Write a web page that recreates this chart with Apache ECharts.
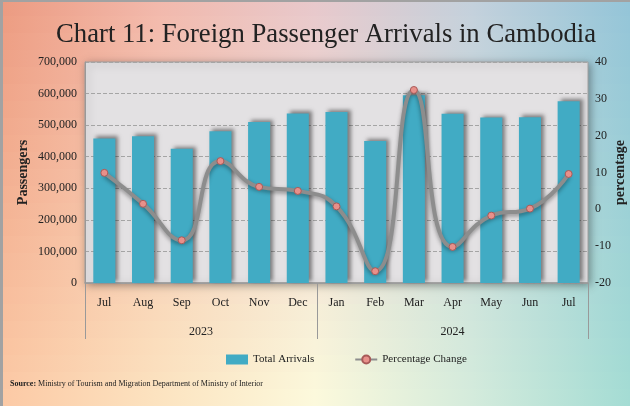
<!DOCTYPE html>
<html>
<head>
<meta charset="utf-8">
<script src="https://cdn.jsdelivr.net/npm/echarts@6/dist/echarts.min.js"></script>
<style>
  html, body { margin: 0; padding: 0; }
  #chart { width: 630px; height: 406px; }
</style>
</head>
<body>
<div id="chart"></div>
<script>
// 数据
let months = ['Jul', 'Aug', 'Sep', 'Oct', 'Nov', 'Dec', 'Jan', 'Feb', 'Mar', 'Apr', 'May', 'Jun', 'Jul']
let years = ['2023', '2024']
let arrivals = [458000, 465000, 425000, 481000, 510000, 537000, 542000, 450000, 595000, 536000, 524000, 525000, 576000]
let pctChange = [9.9, 1.5, -8.4, 13.1, 6.1, 5.0, 0.8, -16.8, 32.4, -10.2, -1.7, 0.2, 9.6]
let leftTicks = [0, 700000, 100000]
let rightTicks = [-20, 40, 10]

let serif = 'Liberation Serif'
let W = 630
let H = 406

// 背景渐变：上下两行颜色，中间按行插值
let topColors = ['#ec9a80', '#f2b8ac', '#e8c8cc', '#c4d0dc', '#94c4d8']
let bottomColors = ['#fccaa6', '#fce4c0', '#fcfadc', '#d4ecdc', '#a4dcd4']

let bgStrips = function (count) {
  let list = []
  let h = H / count
  for (let i = 0; i < count; i++) {
    let t = (i + 0.5) / count
    let stops = topColors.map((c, k) => ({
      offset: k / (topColors.length - 1),
      color: echarts.color.lerp(t, [c, bottomColors[k]])
    }))
    list.push({
      type: 'rect',
      z: -10,
      silent: true,
      shape: {x: 0, y: Math.floor(i * h), width: W, height: Math.ceil(h) + 1},
      style: {fill: new echarts.graphic.LinearGradient(0, 0, 1, 0, stops)}
    })
  }
  return list
}

let el = document.querySelector('#chart')
let chartInstance = echarts.init(el)

let chartOption = {
  animation: false,
  backgroundColor: '#f6e6dc',
  graphic: bgStrips(24).concat([
    {
      type: 'rect',
      z: -9,
      silent: true,
      shape: {x: 0, y: 0, width: 3, height: H},
      style: {fill: '#a2a2a2'}
    },
    {
      type: 'rect',
      z: -9,
      silent: true,
      shape: {x: 0, y: 0, width: W, height: 2},
      style: {fill: '#a2a2a2'}
    },
    {
      type: 'text',
      left: 10,
      top: 380,
      style: {
        text: '{b|Source:} Ministry of Tourism and Migration Department of Ministry of Interior',
        font: '8px ' + serif,
        fill: '#222',
        rich: {
          b: {fontWeight: 'bold', fontFamily: serif, fontSize: 8}
        }
      }
    }
  ]),
  title: {
    text: 'Chart 11: Foreign Passenger Arrivals in Cambodia',
    left: 51,
    top: 16,
    textStyle: {fontFamily: serif, fontSize: 26.7, fontWeight: 'normal', color: '#222'}
  },
  legend: {
    top: 349,
    left: 221,
    itemGap: 40,
    itemWidth: 22,
    itemHeight: 10,
    textStyle: {fontFamily: serif, fontSize: 11, color: '#222'},
    data: [
      {name: 'Total Arrivals', icon: 'rect'},
      {name: 'Percentage Change'}
    ]
  },
  grid: {
    left: 85,
    right: 42,
    top: 62,
    bottom: 123,
    outerBoundsMode: 'none',
    containLabel: false,
    show: true,
    backgroundColor: '#e3e1e3',
    borderColor: '#a0a0a0',
    borderWidth: 1,
    shadowColor: 'rgba(0,0,0,0.35)',
    shadowBlur: 8,
    shadowOffsetX: 2,
    shadowOffsetY: 2
  },
  xAxis: [
    {
      type: 'category',
      data: months,
      axisLine: {lineStyle: {color: '#999', width: 1.5}},
      axisTick: {show: false},
      axisLabel: {fontFamily: serif, fontSize: 12, color: '#222', margin: 14}
    },
    {
      // 年份标签
      type: 'value',
      position: 'bottom',
      min: 0,
      max: months.length,
      axisLine: {show: false},
      splitLine: {show: false},
      axisTick: {show: false},
      axisLabel: {
        customValues: [3, 9.5],
        formatter: v => (v < 6 ? years[0] : years[1]),
        fontFamily: serif,
        fontSize: 12,
        color: '#222',
        margin: 43
      }
    },
    {
      // 年份分隔线
      type: 'category',
      position: 'bottom',
      data: months,
      axisLine: {show: false},
      axisLabel: {show: false},
      splitLine: {show: false},
      axisTick: {
        show: true,
        interval: i => i === 0 || i === 6,
        length: 56,
        lineStyle: {color: '#999'}
      }
    }
  ],
  yAxis: [
    {
      type: 'value',
      min: leftTicks[0],
      max: leftTicks[1],
      interval: leftTicks[2],
      name: 'Passengers',
      nameLocation: 'middle',
      nameRotate: 90,
      nameGap: 55,
      nameMoveOverlap: false,
      nameTextStyle: {fontFamily: serif, fontSize: 14, fontWeight: 'bold', color: '#222'},
      axisLine: {show: true, lineStyle: {color: '#999'}},
      axisTick: {show: false},
      axisLabel: {
        fontFamily: serif,
        fontSize: 12,
        color: '#222',
        margin: 8,
        formatter: v => v.toLocaleString('en-US')
      },
      splitLine: {lineStyle: {color: '#a5a5a5', type: 'dashed'}}
    },
    {
      type: 'value',
      min: rightTicks[0],
      max: rightTicks[1],
      interval: rightTicks[2],
      name: 'percentage',
      nameLocation: 'middle',
      nameRotate: 90,
      nameGap: 25,
      nameMoveOverlap: false,
      nameTextStyle: {fontFamily: serif, fontSize: 14, fontWeight: 'bold', color: '#222'},
      axisLine: {show: false},
      axisTick: {show: false},
      axisLabel: {fontFamily: serif, fontSize: 12, color: '#222', margin: 7},
      splitLine: {show: false}
    }
  ],
  series: [
    {
      name: 'Total Arrivals',
      type: 'bar',
      data: arrivals,
      barWidth: '57%',
      itemStyle: {
        color: '#41abc4',
        shadowColor: 'rgba(0,0,0,0.45)',
        shadowBlur: 4,
        shadowOffsetX: 3,
        shadowOffsetY: -2
      }
    },
    {
      name: 'Percentage Change',
      type: 'line',
      yAxisIndex: 1,
      data: pctChange,
      smooth: 0.5,
      symbol: 'circle',
      symbolSize: 7,
      lineStyle: {
        color: '#8d8d8d',
        width: 4,
        shadowColor: 'rgba(0,0,0,0.4)',
        shadowBlur: 4,
        shadowOffsetY: 2
      },
      itemStyle: {color: '#e8908a', borderColor: '#a85a58', borderWidth: 1}
    }
  ]
}

chartInstance.setOption(chartOption)
</script>
</body>
</html>
